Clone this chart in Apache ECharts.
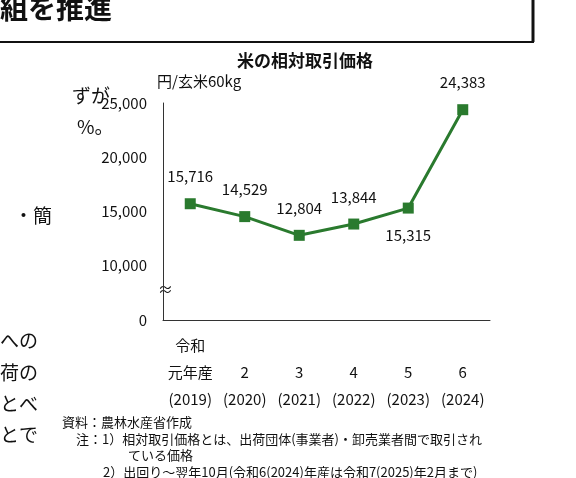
<!DOCTYPE html><html><head><meta charset="utf-8">
<script src="https://cdn.jsdelivr.net/npm/echarts@6/dist/echarts.min.js"></script>
<style>html,body{margin:0;padding:0;background:#fff}#c{width:576px;height:478px}</style></head>
<body><div id="c"></div><script>
const categories=['令和\n元年産\n(2019)','\n2\n(2020)','\n3\n(2021)','\n4\n(2022)','\n5\n(2023)','\n6\n(2024)'];
const prices=[15716,14529,12804,13844,15315,24383];
const labelPos=['top','top','top','top','bottom','top'];
const F='"Noto Sans CJK JP","Noto Sans",sans-serif';
const chart=echarts.init(document.getElementById('c'));
const txt=(x,y,t,s,w)=>({type:'text',left:x,top:y,style:{text:t,font:(w||'normal')+' '+s+'px '+F,fill:'#111'}});
chart.setOption({
 animation:false,
 title:{text:'米の相対取引価格',left:300,top:47,textAlign:'center',textStyle:{fontFamily:F,fontSize:17,fontWeight:'bold',color:'#111'}},
 grid:{left:163,right:86,top:103,bottom:158},
 xAxis:{type:'category',data:categories,axisTick:{show:false},axisLine:{lineStyle:{color:'#333'}},
  axisLabel:{margin:12,lineHeight:27,fontFamily:F,fontSize:15,color:'#111',interval:0}},
 yAxis:{type:'value',min:5000,max:25000,interval:5000,splitLine:{show:false},
  axisLine:{show:true,lineStyle:{color:'#333'}},axisTick:{show:false},
  axisLabel:{fontFamily:F,fontSize:15,color:'#111',margin:16,formatter:v=>v===5000?'0':v.toLocaleString('en-US')}},
 series:[{type:'line',data:prices.map((v,i)=>({value:v,label:{position:labelPos[i]}})),
  symbol:'rect',symbolSize:11,lineStyle:{color:'#2a7a2e',width:3},itemStyle:{color:'#2a7a2e'},
  label:{show:true,distance:14,fontFamily:F,fontSize:15,color:'#111',formatter:p=>p.value.toLocaleString('en-US')}}],
 graphic:[
  {type:'rect',shape:{x:-10,y:-10,width:543,height:52},style:{fill:'none',stroke:'#111',lineWidth:2}},
  {type:'line',shape:{x1:533,y1:0,x2:533,y2:42},style:{stroke:'#111',lineWidth:3}},
  txt(0,-6,'組を推進',28,'bold'),
  txt(157,74,'円/玄米60kg',15),
  txt(158,282,'≈',15),
  txt(72,86,'ずが',19),txt(77,117,'%。',19),txt(14,206,'・簡',19),
  txt(0,331,'への',19),txt(0,363,'荷の',19),txt(0,394,'とべ',19),txt(0,425,'とで',19),
  txt(62,416,'資料：農林水産省作成',13),
  txt(76,433,'注：1）相対取引価格とは、出荷団体(事業者)・卸売業者間で取引され',13),
  txt(128,449,'ている価格',13),
  txt(103,466,'2）出回り～翌年10月(令和6(2024)年産は令和7(2025)年2月まで)',13)
 ]
});
</script></body></html>
